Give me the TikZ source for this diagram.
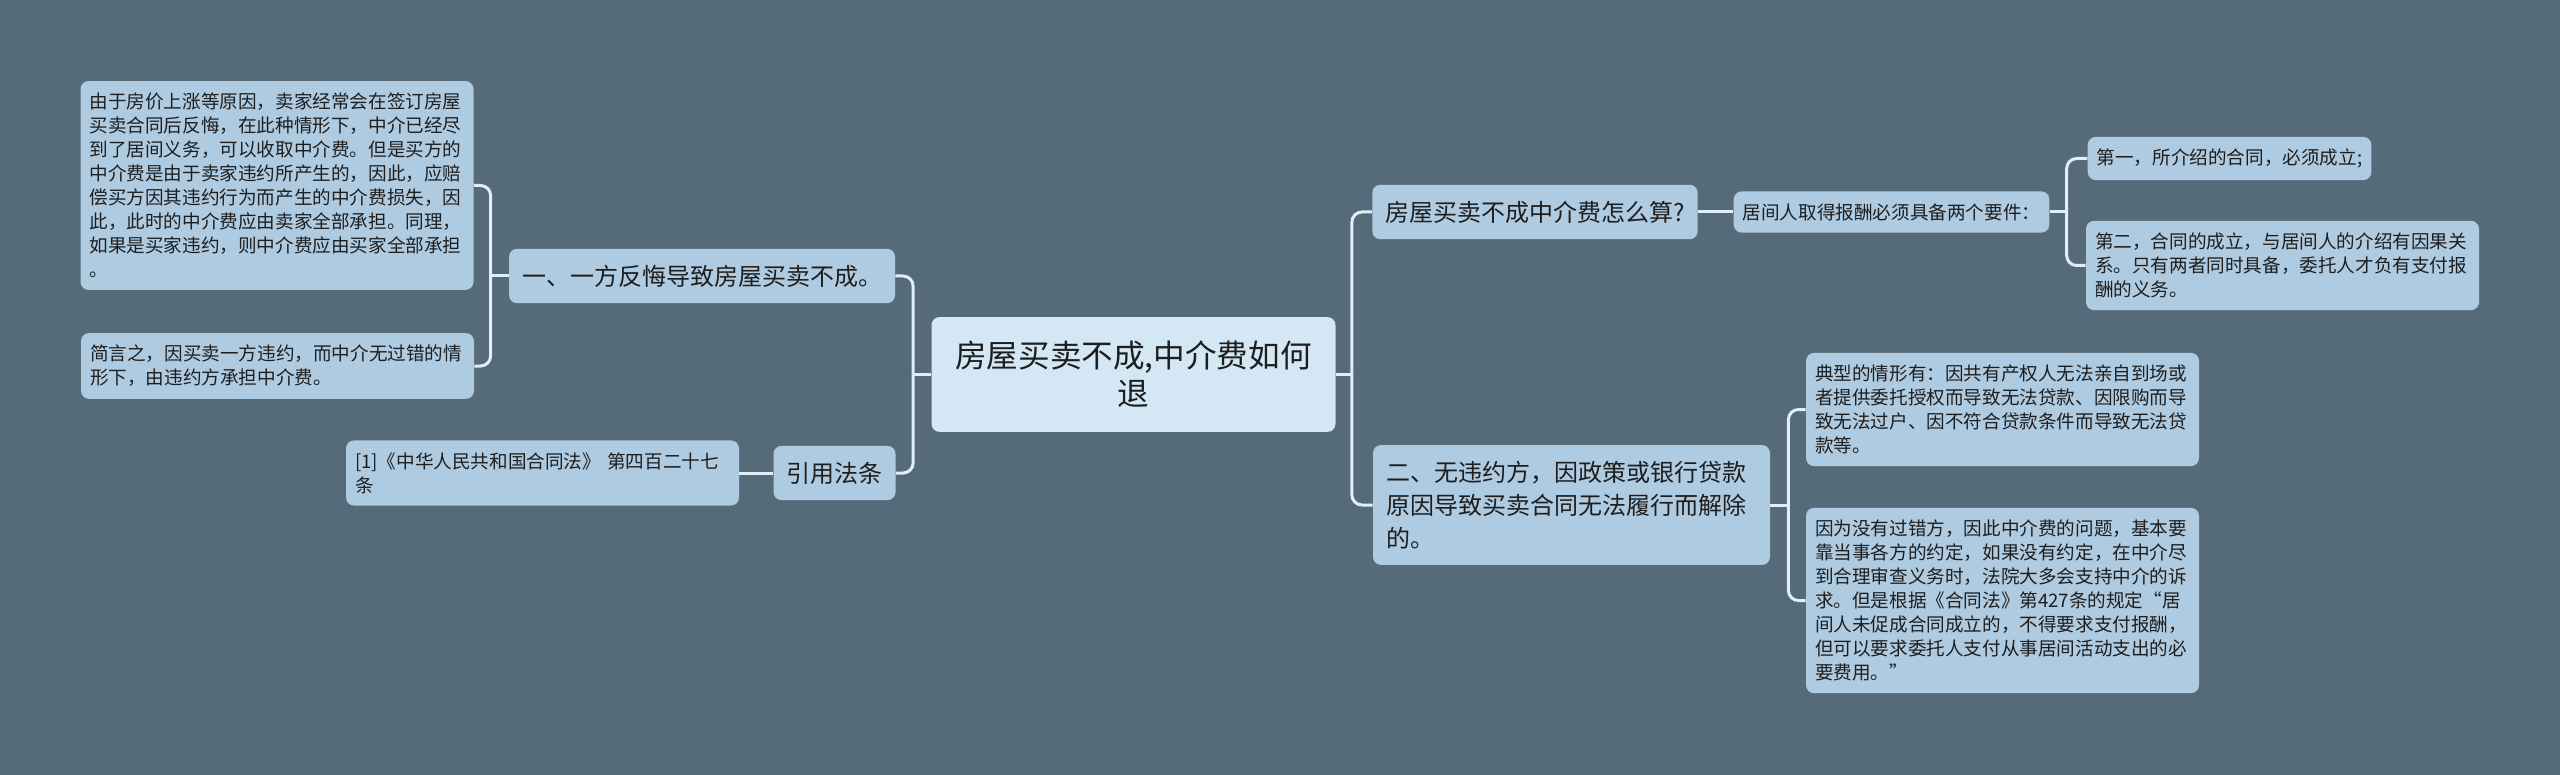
\documentclass[tikz,border=0pt]{standalone}
\usepackage{fontspec}
\setmainfont{Noto Sans CJK SC}
\definecolor{bgcol}{HTML}{566B7A}
\definecolor{boxfill}{HTML}{AFCBE1}
\definecolor{rootfill}{HTML}{D3E8F4}
\definecolor{linkcol}{HTML}{DDEFF8}
\definecolor{ink}{HTML}{1E1E1E}

\begin{document}
\begin{tikzpicture}[x=0.5pt,y=-0.5pt,
 root/.style={fill=rootfill,rounded corners=4pt,align=center,text width=190pt,inner xsep=6pt,inner ysep=12pt,font=\fontsize{15.8}{19}\selectfont,text=ink},
 topic/.style={fill=boxfill,rounded corners=4pt,align=left,inner xsep=6.5pt,inner ysep=8pt,font=\fontsize{12}{16.5}\selectfont,text=ink},
 leaf/.style={fill=boxfill,rounded corners=4pt,align=left,inner xsep=4.5pt,inner ysep=6pt,font=\fontsize{9.3}{12}\selectfont,text=ink},
 wide/.style={text width=187.5pt},
 link/.style={draw=linkcol,line width=1.5pt,rounded corners=5pt}]
\useasboundingbox (0,0) rectangle (2560,775);
\fill[bgcol] (0,0) rectangle (2560,775);

\node[root] (root) at (1133.5,374.5) {房屋买卖不成,中介费如何\\退};

% left side
\node[topic] (t1) at (702,276) {一、一方反悔导致房屋买卖不成。};
\node[topic] (t2) at (834.5,473) {引用法条};
\node[leaf,wide] (l1) at (277,185.5) {由于房价上涨等原因，卖家经常会在签订房屋\\买卖合同后反悔，在此种情形下，中介已经尽\\到了居间义务，可以收取中介费。但是买方的\\中介费是由于卖家违约所产生的，因此，应赔\\偿买方因其违约行为而产生的中介费损失，因\\此，此时的中介费应由卖家全部承担。同理，\\如果是买家违约，则中介费应由买家全部承担\\。};
\node[leaf,wide] (l2) at (277.5,366) {简言之，因买卖一方违约，而中介无过错的情\\形下，由违约方承担中介费。};
\node[leaf,wide] (l3) at (542.5,473) {[1]《中华人民共和国合同法》 第四百二十七\\条};

% right side
\node[topic] (t3) at (1535,212) {房屋买卖不成中介费怎么算?};
\node[topic,text width=185.5pt] (t4) at (1571.5,505) {二、无违约方，因政策或银行贷款\\原因导致买卖合同无法履行而解除\\的。};
\node[leaf] (s1) at (1891.5,212) {居间人取得报酬必须具备两个要件：};
\node[leaf] (r1) at (2229.5,158.5) {第一，所介绍的合同，必须成立;};
\node[leaf,wide] (r2) at (2282.5,265.5) {第二，合同的成立，与居间人的介绍有因果关\\系。只有两者同时具备，委托人才负有支付报\\酬的义务。};
\node[leaf,wide] (r3) at (2002.5,409.5) {典型的情形有：因共有产权人无法亲自到场或\\者提供委托授权而导致无法贷款、因限购而导\\致无法过户、因不符合贷款条件而导致无法贷\\款等。};
\node[leaf,wide] (r4) at (2002.5,600.5) {因为没有过错方，因此中介费的问题，基本要\\靠当事各方的约定，如果没有约定，在中介尽\\到合理审查义务时，法院大多会支持中介的诉\\求。但是根据《合同法》第427条的规定“居\\间人未促成合同成立的，不得要求支付报酬，\\但可以要求委托人支付从事居间活动支出的必\\要费用。”};

% connectors
\draw[link] (root.west) -- ++(-18,0) coordinate (lbus);
\draw[link] (lbus) |- (t1.east);
\draw[link] (lbus) |- (t2.east);
\draw[link] (root.east) -- ++(16,0) coordinate (rbus);
\draw[link] (rbus) |- (t3.west);
\draw[link] (rbus) |- (t4.west);
\draw[link] (t1.west) -- ++(-18,0) coordinate (t1bus);
\draw[link] (t1bus) |- (l1.east);
\draw[link] (t1bus) |- (l2.east);
\draw[link] (t2.west) -- (l3.east);
\draw[link] (t3.east) -- (s1.west);
\draw[link] (s1.east) -- ++(17,0) coordinate (s1bus);
\draw[link] (s1bus) |- (r1.west);
\draw[link] (s1bus) |- (r2.west);
\draw[link] (t4.east) -- ++(18,0) coordinate (t4bus);
\draw[link] (t4bus) |- (r3.west);
\draw[link] (t4bus) |- (r4.west);
\end{tikzpicture}
\end{document}
